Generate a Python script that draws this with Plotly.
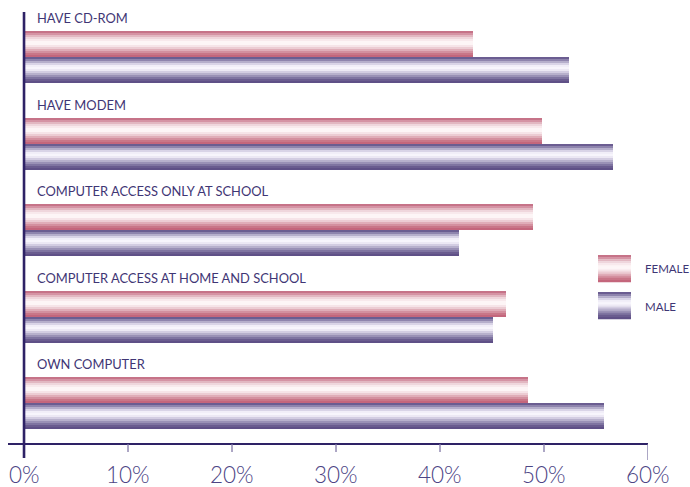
import plotly.graph_objects as go

# Survey data: share of respondents (%) by gender
categories = [
    "HAVE CD-ROM",
    "HAVE MODEM",
    "COMPUTER ACCESS ONLY AT SCHOOL",
    "COMPUTER ACCESS AT HOME AND SCHOOL",
    "OWN COMPUTER",
]
female = [43.2, 49.8, 48.9, 46.3, 48.5]
male = [52.4, 56.6, 41.8, 45.1, 55.8]
tick_values = [0, 10, 20, 30, 40, 50, 60]
tick_labels = ["0%", "10%", "20%", "30%", "40%", "50%", "60%"]

# Striped fills (top to bottom) that give each bar its tube-like shading
female_stripes = ["#c67388", "#d593a4", "#e2b7c1", "#efd6dc", "#f8e9ec", "#fdf5f6",
                  "#fdf5f6", "#f6e4e8", "#ecccd3", "#e0adb8", "#d4909f", "#c97688", "#c4667c"]
male_stripes = ["#6b5d91", "#8e84ad", "#b5aecb", "#d9d4e7", "#f1eef8", "#f7f5fc",
                "#ece8f4", "#d3cde2", "#b7b0cc", "#9a91b6", "#7f74a1", "#6a5c8f", "#5f5087"]

DARK = "#2e2266"
TEXT = "#3f3675"
STRIPE_H = 2.0
BAR_H = STRIPE_H * len(female_stripes)
GROUP_STEP = 86.5
FIRST_TOP = 31.0
PX_PER_PCT = 10.4
ORIGIN_PX = 24

fig = go.Figure()


def add_striped(values, stripes, offset):
    for k, col in enumerate(stripes):
        ys = [FIRST_TOP + i * GROUP_STEP + offset + STRIPE_H * k + STRIPE_H / 2
              for i in range(len(values))]
        fig.add_trace(go.Bar(
            x=values, y=ys, orientation="h", width=STRIPE_H,
            marker=dict(color=col, line=dict(width=0)),
            showlegend=False, hoverinfo="skip",
        ))


add_striped(female, female_stripes, 0)
add_striped(male, male_stripes, BAR_H)

# Category captions above each pair of bars
for i, cat in enumerate(categories):
    fig.add_annotation(
        x=(34.5 - ORIGIN_PX) / PX_PER_PCT, y=FIRST_TOP + i * GROUP_STEP - 13,
        text=cat, showarrow=False, xanchor="left", yanchor="middle",
        font=dict(family="Lato", size=12.9, color=TEXT),
    )

shapes = []
# Axis lines
shapes.append(dict(type="line", xref="x", yref="y", x0=-1.54, x1=60, y0=444, y1=444,
                   line=dict(color=DARK, width=2.2)))
shapes.append(dict(type="line", xref="x", yref="y", x0=0, x1=0, y0=12, y1=458,
                   line=dict(color=DARK, width=2.6)))
# Tick marks
for v in tick_values[1:]:
    shapes.append(dict(type="line", xref="x", yref="y", x0=v, x1=v, y0=444,
                       y1=460 if v == 60 else 452,
                       line=dict(color="#8078a6", width=1.3)))

# Legend swatches
legend_x0 = (598 - ORIGIN_PX) / PX_PER_PCT
legend_x1 = (631 - ORIGIN_PX) / PX_PER_PCT
for top, stripes in ((255.0, female_stripes), (292.0, male_stripes)):
    h = 27.0 / len(stripes)
    for k, col in enumerate(stripes):
        shapes.append(dict(type="rect", xref="x", yref="y", x0=legend_x0, x1=legend_x1,
                           y0=top + k * h, y1=top + (k + 1) * h + 0.3,
                           fillcolor=col, line=dict(width=0), layer="above"))
fig.update_layout(shapes=shapes)

for label, yc in (("FEMALE", 268.5), ("MALE", 306)):
    fig.add_annotation(x=(643 - ORIGIN_PX) / PX_PER_PCT, y=yc, text=label, showarrow=False,
                       xanchor="left", yanchor="middle",
                       font=dict(family="Lato", size=11.5, color=TEXT))

# Tick labels
for v, t in zip(tick_values, tick_labels):
    fig.add_annotation(x=v, y=473.5, text=t, showarrow=False, xanchor="center",
                       yanchor="middle", height=22, valign="middle",
                       font=dict(family="Lato", size=22.5, color="#4d4585", weight=300))

fig.update_layout(
    width=690, height=487,
    margin=dict(l=8, r=42, t=0, b=0),
    paper_bgcolor="white", plot_bgcolor="white",
    barmode="overlay", bargap=0,
    xaxis=dict(range=[-1.54, 60], showgrid=False, zeroline=False, showticklabels=False,
               showline=False, ticks=""),
    yaxis=dict(range=[487, 0], showgrid=False, zeroline=False, showticklabels=False,
               showline=False, ticks=""),
    showlegend=False,
)

fig.write_html("out.html")
